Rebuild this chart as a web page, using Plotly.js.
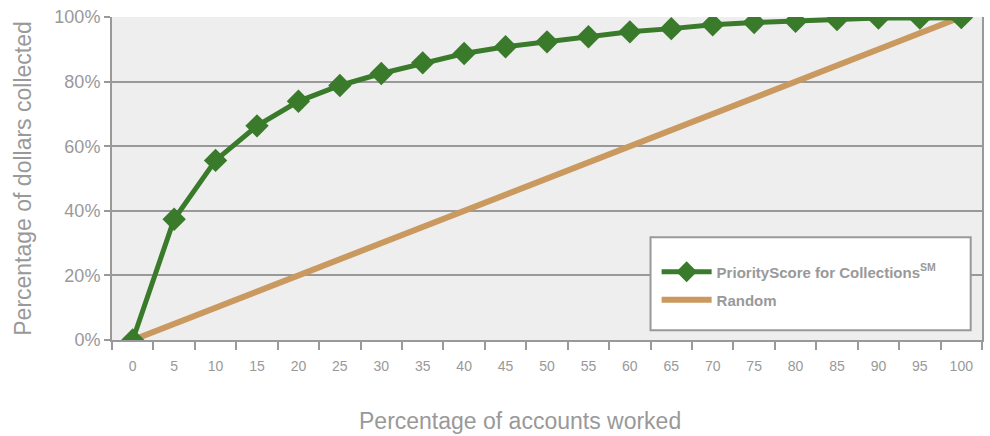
<!DOCTYPE html>
<html>
<head>
<meta charset="utf-8">
<script src="https://cdn.plot.ly/plotly-3.0.1.min.js"></script>
<style>html,body{margin:0;padding:0;background:#fff;}#chart{width:990px;height:436px;}</style>
</head>
<body>
<div id="chart"></div>
<script>
var categories = ["0","5","10","15","20","25","30","35","40","45","50","55","60","65","70","75","80","85","90","95","100"];
var priorityScore = [0, 37.4, 55.6, 66.3, 73.9, 78.8, 82.5, 85.8, 88.7, 90.8, 92.3, 93.9, 95.4, 96.4, 97.6, 98.3, 98.7, 99.2, 99.7, 99.7, 99.8];
var randomLine = [0, 5, 10, 15, 20, 25, 30, 35, 40, 45, 50, 55, 60, 65, 70, 75, 80, 85, 90, 95, 100];
var yTicks = [0, 20, 40, 60, 80, 100];
var yTickLabels = ["0%", "20%", "40%", "60%", "80%", "100%"];
var xTitle = "Percentage of accounts worked";
var yTitle = "Percentage of dollars collected";

var grey = "#999999";
var font = "Liberation Sans, Arial, sans-serif";

var traces = [
  {
    x: categories, y: randomLine, type: "scatter", mode: "lines",
    name: "<b>Random</b>",
    line: {color: "#c9995f", width: 6},
    legend: "legend2"
  },
  {
    x: categories, y: priorityScore, type: "scatter", mode: "lines+markers",
    name: "<b>PriorityScore for Collections<sup>SM</sup></b>",
    line: {color: "#3a7a2b", width: 5},
    marker: {symbol: "diamond", size: 18, color: "#3a7a2b"},
    legend: "legend"
  }
];

var legendCommon = {
  xanchor: "left", yanchor: "middle",
  bgcolor: "rgba(0,0,0,0)", borderwidth: 0,
  font: {family: font, size: 15, color: grey},
  itemwidth: 50
};

var layout = {
  width: 990, height: 436,
  margin: {l: 112, r: 8, t: 17, b: 96},
  paper_bgcolor: "#ffffff",
  plot_bgcolor: "#eeeeee",
  showlegend: true,
  legend: Object.assign({}, legendCommon, {x: 0.626, y: 0.2105}),
  legend2: Object.assign({}, legendCommon, {x: 0.626, y: 0.1238}),
  shapes: [
    {type: "rect", xref: "paper", yref: "paper", x0: 0.619, x1: 0.987, y0: 0.03, y1: 0.318,
     fillcolor: "#ffffff", line: {color: grey, width: 2}, layer: "above"}
  ],
  annotations: [
    {text: xTitle, xref: "paper", yref: "paper", x: 0.469, y: -0.25, xanchor: "center", yanchor: "middle",
     showarrow: false, font: {family: font, size: 23, color: grey}}
  ],
  xaxis: {
    type: "category",
    tickson: "boundaries",
    ticks: "outside", ticklen: 8, tickwidth: 2, tickcolor: grey,
    showgrid: false, zeroline: false,
    showline: true, linecolor: grey, linewidth: 2,
    tickfont: {family: font, size: 14, color: grey},
    ticklabelstandoff: 12,
    range: [-0.5, 20.5]
  },
  yaxis: {
    range: [0, 100],
    tickvals: yTicks, ticktext: yTickLabels,
    ticks: "outside", ticklen: 6, tickwidth: 2, tickcolor: grey,
    showgrid: true, gridcolor: grey, gridwidth: 2,
    zeroline: false,
    showline: true, linecolor: grey, linewidth: 2, mirror: true,
    tickfont: {family: font, size: 18, color: grey},
    title: {text: yTitle, font: {family: font, size: 23, color: grey}, standoff: 16}
  }
};

Plotly.newPlot("chart", traces, layout, {displayModeBar: false, staticPlot: true});
</script>
</body>
</html>
